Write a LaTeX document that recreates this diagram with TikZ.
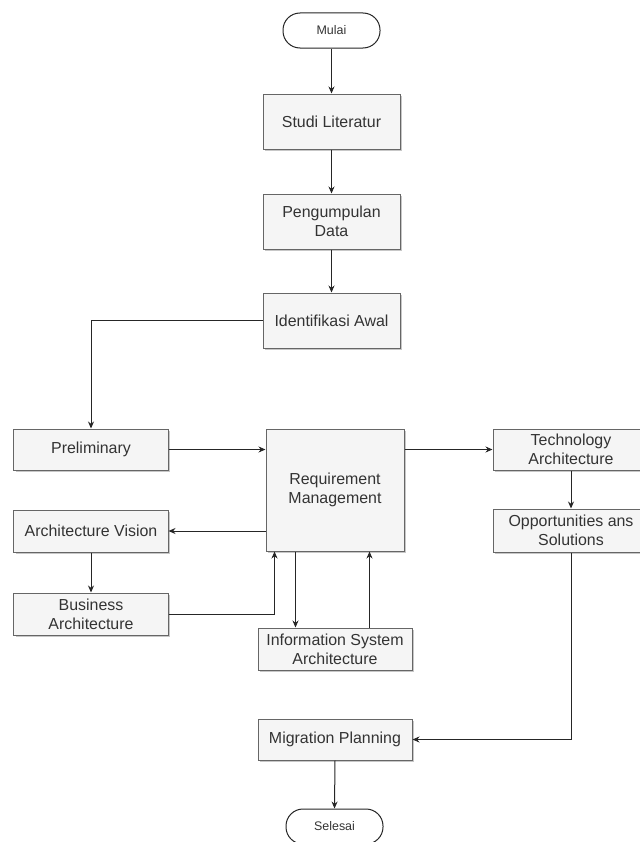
\documentclass[tikz,border=0pt]{standalone}
\usepackage{fontspec}
\setmainfont{Liberation Sans}
\usetikzlibrary{arrows.meta,shadows}
\definecolor{boxfill}{HTML}{F5F5F5}
\definecolor{boxline}{HTML}{666666}
\definecolor{boxtext}{HTML}{333333}
\tikzset{
  procbox/.style={draw=boxline, fill=boxfill, line width=1bp, text=boxtext,
    align=center, inner sep=0pt, font=\fontsize{16}{19}\selectfont,
    drop shadow={shadow xshift=2bp, shadow yshift=-2bp, fill=black, opacity=0.22}},
  terminal/.style={draw=black!85, fill=white, line width=1bp, text=boxtext,
    rounded corners=17bp, inner sep=0pt, minimum width=97bp, minimum height=35bp,
    font=\fontsize{12.5}{15}\selectfont},
  flow/.style={draw=black!85, line width=1bp, -{Stealth[length=7bp,width=6bp]}},
}
\begin{document}
\begin{tikzpicture}[x={(1bp,0)}, y={(0,-1bp)}]
  \useasboundingbox (0,0) rectangle (640,842);
  \begin{scope}
    \clip (0,0) rectangle (640,842);

    % main column
    \node[terminal] (mulai) at (331.5,30.5) {Mulai};
    \node[procbox, minimum width=137bp, minimum height=55bp] (studi) at (331.5,121.5) {Studi Literatur};
    \node[procbox, minimum width=137bp, minimum height=55bp] (peng) at (331.5,221.5) {Pengumpulan\\Data};
    \node[procbox, minimum width=137bp, minimum height=55bp] (ident) at (331.5,320.5) {Identifikasi Awal};

    % ADM phases
    \node[procbox, minimum width=154bp, minimum height=41bp] (prelim) at (91,449.5) {Preliminary};
    \node[procbox, minimum width=138bp, minimum height=122bp] (rm) at (335,490) {Requirement\\Management};
    \node[procbox, minimum width=156bp, minimum height=41bp] (tech) at (571,449.5) {Technology\\Architecture};
    \node[procbox, minimum width=156bp, minimum height=43bp] (opp) at (571,530.5) {Opportunities ans\\Solutions};
    \node[procbox, minimum width=154bp, minimum height=42bp] (av) at (91,531) {Architecture Vision};
    \node[procbox, minimum width=154bp, minimum height=42bp] (bus) at (91,614) {Business\\Architecture};
    \node[procbox, minimum width=154bp, minimum height=42bp] (isa) at (335,649) {Information System\\Architecture};
    \node[procbox, minimum width=154bp, minimum height=41bp] (mig) at (335,739.5) {Migration Planning};
    \node[terminal] (sel) at (334.5,826.5) {Selesai};

    % connectors
    \draw[flow] (mulai.south) -- (studi.north);
    \draw[flow] (studi.south) -- (peng.north);
    \draw[flow] (peng.south) -- (ident.north);
    \draw[flow] (ident.west) -| (prelim.north);
    \draw[flow] (prelim.east) -- (prelim.east -| rm.west);
    \draw[flow] (tech.west -| rm.east) -- (tech.west);
    \draw[flow] (tech.south) -- (opp.north);
    \draw[flow] (av.east -| rm.west) -- (av.east);
    \draw[flow] (av.south) -- (bus.north);
    \draw[flow] (bus.east) -| ([xshift=9bp]rm.south west);
    \draw[flow] ([xshift=30bp]rm.south west) -- ([xshift=30bp]rm.south west |- isa.north);
    \draw[flow] ([xshift=104bp]rm.south west |- isa.north) -- ([xshift=104bp]rm.south west);
    \draw[flow] (opp.south) |- (mig.east);
    \draw[flow] (mig.south) -- (sel.north);
  \end{scope}
\end{tikzpicture}
\end{document}
